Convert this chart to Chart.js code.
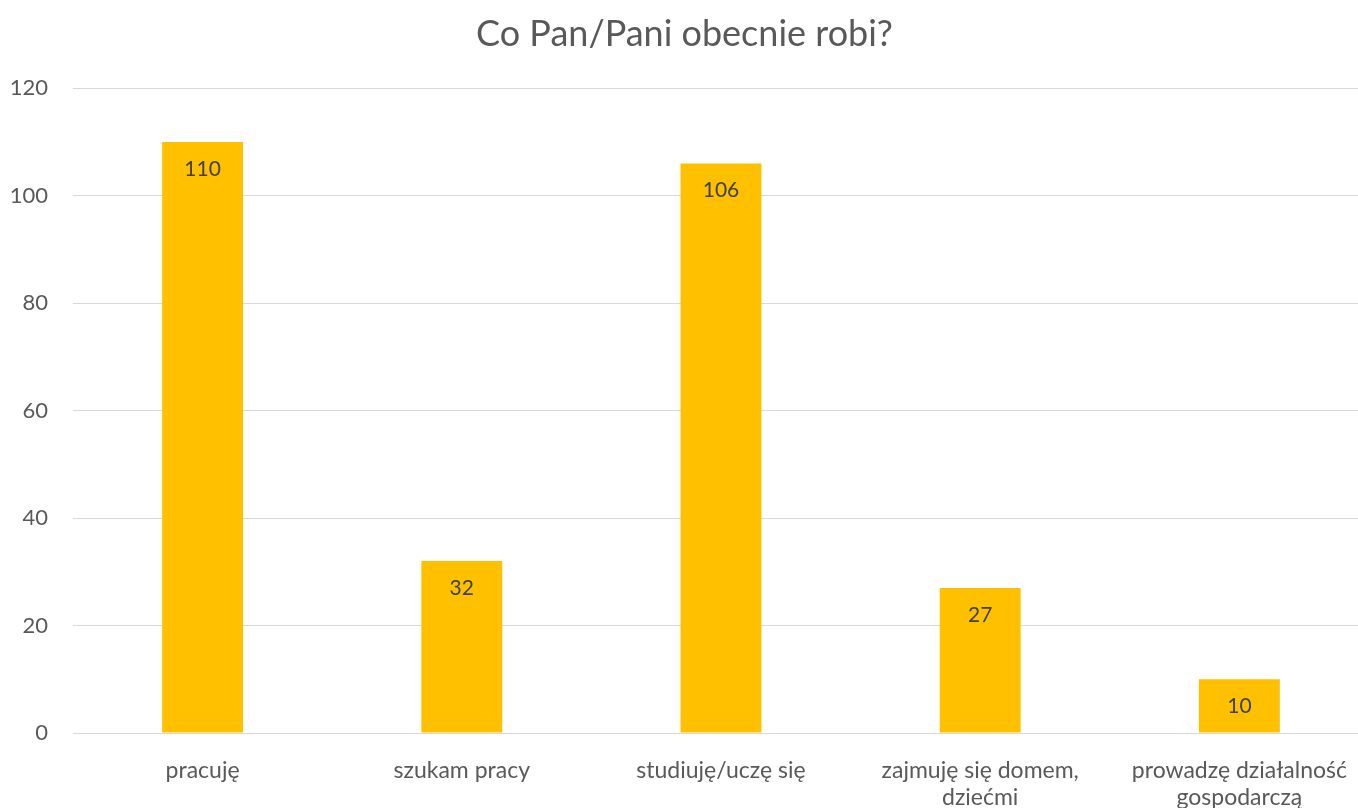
<!DOCTYPE html>
<html lang="pl">
<head>
<meta charset="utf-8">
<title>Co Pan/Pani obecnie robi?</title>
<script src="https://cdn.jsdelivr.net/npm/chart.js@4.4.0/dist/chart.umd.min.js"></script>
<style>
  html, body { margin: 0; padding: 0; background: #fff; overflow: hidden; }
  #wrap { position: relative; width: 1370px; height: 808px; }
</style>
</head>
<body>
<div id="wrap"><canvas id="chart"></canvas></div>
<script>
const categories = [
  'pracuję',
  'szukam pracy',
  'studiuję/uczę się',
  ['zajmuję się domem,', 'dziećmi'],
  ['prowadzę działalność', 'gospodarczą'],
];
const counts = [110, 32, 106, 27, 10];
const yTicks = { min: 0, max: 120, step: 20 };

// value written just inside the top of each bar
const barLabels = {
  id: 'barLabels',
  afterDatasetsDraw(chart) {
    const ctx = chart.ctx;
    const meta = chart.getDatasetMeta(0);
    ctx.save();
    ctx.font = '21px Lato';
    ctx.fillStyle = '#404040';
    ctx.textAlign = 'center';
    ctx.textBaseline = 'middle';
    meta.data.forEach((bar, i) => {
      ctx.fillText(String(counts[i]), bar.x, bar.y + 27);
    });
    ctx.restore();
  },
};

const ctx = document.getElementById('chart').getContext('2d');
new Chart(ctx, {
  type: 'bar',
  data: {
    labels: categories,
    datasets: [{
      data: counts,
      backgroundColor: '#FFC000',
      categoryPercentage: 1,
      barPercentage: 0.312,
    }],
  },
  options: {
    responsive: true,
    maintainAspectRatio: false,
    animation: false,
    layout: { padding: { left: 0, right: 1, top: 0, bottom: 0 } },
    plugins: {
      legend: { display: false },
      tooltip: { enabled: false },
      title: {
        display: true,
        text: 'Co Pan/Pani obecnie robi?',
        color: '#595959',
        font: { family: 'Lato', size: 36, weight: 'normal' },
        padding: { top: 13, bottom: 32 },
      },
    },
    scales: {
      x: {
        grid: { display: false },
        border: { display: false },
        afterFit: (scale) => { scale.height = 75; },
        ticks: {
          color: '#595959',
          font: { family: 'Lato', size: 23, lineHeight: 1.17 },
          maxRotation: 0,
          padding: 16,
        },
      },
      y: {
        min: yTicks.min,
        max: yTicks.max,
        grid: { color: '#d9d9d9', lineWidth: 1, drawTicks: false },
        border: { display: false },
        afterFit: (scale) => { scale.width = 73; },
        ticks: {
          stepSize: yTicks.step,
          color: '#595959',
          font: { family: 'Lato', size: 22 },
          padding: 25,
        },
      },
    },
  },
  plugins: [barLabels],
});
</script>
</body>
</html>
